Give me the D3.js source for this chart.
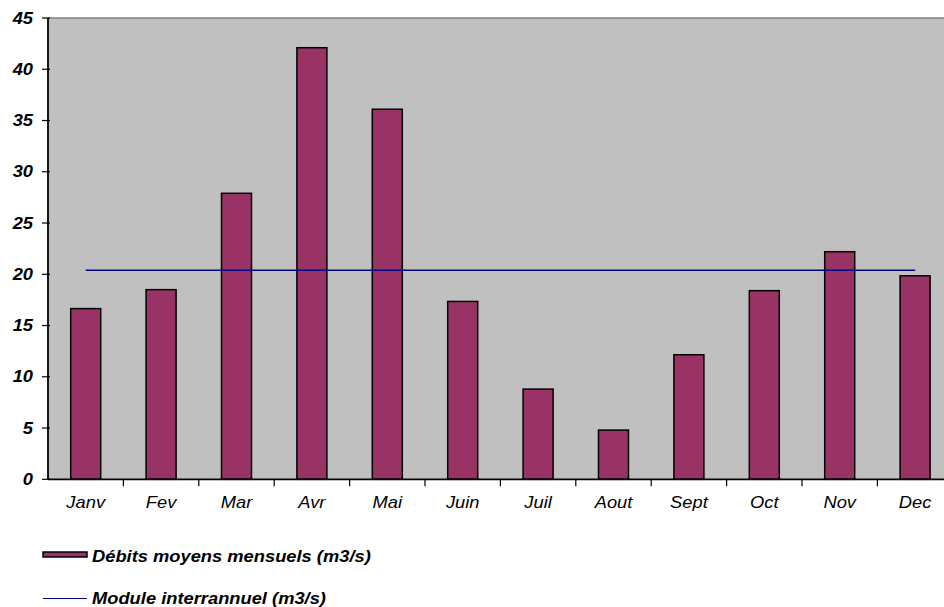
<!DOCTYPE html>
<html>
<head>
<meta charset="utf-8">
<script src="https://cdn.jsdelivr.net/npm/d3@7"></script>
<style>
  html, body { margin: 0; padding: 0; background: #fff; }
  svg { display: block; font-family: "Liberation Sans", Arial, sans-serif; }
</style>
</head>
<body>
<svg id="chart" width="944" height="607"></svg>
<script>
// Mean monthly discharge (m3/s) and inter-annual module
const months = ["Janv", "Fev", "Mar", "Avr", "Mai", "Juin", "Juil", "Aout", "Sept", "Oct", "Nov", "Dec"];
const debits = [16.65, 18.5, 27.9, 42.1, 36.1, 17.35, 8.8, 4.8, 12.15, 18.4, 22.2, 19.85];
const moduleValue = [20.4];
const yTicks = [0, 5, 10, 15, 20, 25, 30, 35, 40, 45];
const legendLabels = ["Débits moyens mensuels (m3/s)", "Module interrannuel (m3/s)"];

const svg = d3.select("#chart");
const plotLeft = 48, plotTop = 18, plotBottom = 479.3;
const bandW = 75.4;
const plotRight = plotLeft + bandW * months.length;
const fontSize = 16;
const stretch = 1.145; // wide glyphs of the original typeface

const x = d3.scaleBand().domain(months).range([plotLeft, plotRight]).paddingInner(0).paddingOuter(0);
const y = d3.scaleLinear().domain([0, 45]).range([plotBottom, plotTop]);

const place = (px, py) => `translate(${px},${py}) scale(${stretch},1)`;

// plot background
svg.append("rect")
  .attr("x", plotLeft).attr("y", plotTop)
  .attr("width", plotRight - plotLeft).attr("height", plotBottom - plotTop)
  .attr("fill", "#c0c0c0");
svg.append("line")
  .attr("x1", plotLeft).attr("x2", plotRight)
  .attr("y1", plotTop).attr("y2", plotTop)
  .attr("stroke", "#808080").attr("stroke-width", 1.5);

// bars
const barW = 30;
svg.append("g").selectAll("rect")
  .data(debits)
  .join("rect")
  .attr("x", (d, i) => x(months[i]) + x.bandwidth() / 2 - barW / 2)
  .attr("y", d => y(d))
  .attr("width", barW)
  .attr("height", d => y(0) - y(d))
  .attr("fill", "#993366")
  .attr("stroke", "#000")
  .attr("stroke-width", 1.5);

// module line, spanning the first to last month centres
svg.append("line")
  .attr("x1", x(months[0]) + x.bandwidth() / 2)
  .attr("x2", x(months[months.length - 1]) + x.bandwidth() / 2)
  .attr("y1", y(moduleValue[0]))
  .attr("y2", y(moduleValue[0]))
  .attr("stroke", "#000080")
  .attr("stroke-width", 1.5);

// y axis
const yAxis = svg.append("g");
yAxis.append("line")
  .attr("x1", plotLeft).attr("x2", plotLeft).attr("y1", plotTop).attr("y2", plotBottom)
  .attr("stroke", "#000").attr("stroke-width", 1.8);
yAxis.selectAll("line.tick").data(yTicks).join("line")
  .attr("class", "tick")
  .attr("x1", plotLeft - 6).attr("x2", plotLeft + 2)
  .attr("y1", d => y(d)).attr("y2", d => y(d))
  .attr("stroke", "#000").attr("stroke-width", 1.2);
yAxis.selectAll("text").data(yTicks).join("text")
  .attr("transform", d => place(33, y(d)))
  .attr("dy", "0.35em")
  .attr("text-anchor", "end")
  .attr("font-size", fontSize)
  .attr("font-weight", "bold")
  .attr("font-style", "italic")
  .text(d => d);

// x axis
const xAxis = svg.append("g");
xAxis.append("line")
  .attr("x1", plotLeft).attr("x2", plotRight).attr("y1", plotBottom).attr("y2", plotBottom)
  .attr("stroke", "#000").attr("stroke-width", 1.8);
xAxis.selectAll("line.tick").data(months.slice(1)).join("line")
  .attr("class", "tick")
  .attr("x1", d => x(d)).attr("x2", d => x(d))
  .attr("y1", plotBottom).attr("y2", plotBottom + 7)
  .attr("stroke", "#000").attr("stroke-width", 1.2);
xAxis.selectAll("text").data(months).join("text")
  .attr("transform", d => place(x(d) + x.bandwidth() / 2, 502))
  .attr("dy", "0.35em")
  .attr("text-anchor", "middle")
  .attr("font-size", fontSize)
  .attr("font-style", "italic")
  .text(d => d);

// legend
const legend = svg.append("g");
legend.append("rect")
  .attr("x", 43).attr("y", 552)
  .attr("width", 44).attr("height", 5)
  .attr("fill", "#993366").attr("stroke", "#000").attr("stroke-width", 1.5);
legend.append("line")
  .attr("x1", 43).attr("x2", 87).attr("y1", 598.5).attr("y2", 598.5)
  .attr("stroke", "#000080").attr("stroke-width", 1.2);
legend.selectAll("text").data(legendLabels).join("text")
  .attr("transform", (d, i) => place(92, i === 0 ? 556 : 598))
  .attr("dy", "0.35em")
  .attr("font-size", fontSize)
  .attr("font-weight", "bold")
  .attr("font-style", "italic")
  .text(d => d);
</script>
</body>
</html>
